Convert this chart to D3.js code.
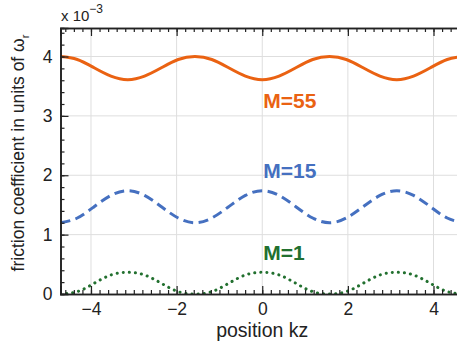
<!DOCTYPE html>
<html>
<head>
<meta charset="utf-8">
<script src="https://cdn.jsdelivr.net/npm/d3@7"></script>
<style>
  body { margin: 0; background: #fff; }
  svg { display: block; font-family: "Liberation Sans", Arial, sans-serif; }
</style>
</head>
<body>
<div id="root"></div>
<script>
// positions kz (samples every pi/8 from -3pi/2 to 3pi/2)
const positions = [-4.712, -4.320, -3.927, -3.534, -3.142, -2.749, -2.356, -1.963, -1.571,
  -1.178, -0.785, -0.393, 0, 0.393, 0.785, 1.178, 1.571, 1.963, 2.356, 2.749, 3.142,
  3.534, 3.927, 4.320, 4.712];

// friction coefficient (x 1e-3)
const m55 = [4.00, 3.95, 3.81, 3.67, 3.61, 3.67, 3.81, 3.95, 4.00, 3.95, 3.81, 3.67, 3.61,
  3.67, 3.81, 3.95, 4.00, 3.95, 3.81, 3.67, 3.61, 3.67, 3.81, 3.95, 4.00];
const m15 = [1.20, 1.28, 1.47, 1.66, 1.74, 1.66, 1.47, 1.28, 1.20, 1.28, 1.47, 1.66, 1.74,
  1.66, 1.47, 1.28, 1.20, 1.28, 1.47, 1.66, 1.74, 1.66, 1.47, 1.28, 1.20];
const m1 = [0.00, 0.04, 0.18, 0.32, 0.365, 0.32, 0.18, 0.04, 0.00, 0.04, 0.18, 0.32, 0.365,
  0.32, 0.18, 0.04, 0.00, 0.04, 0.18, 0.32, 0.365, 0.32, 0.18, 0.04, 0.00];

const xTicks = [-4, -2, 0, 2, 4];
const yTicks = [0, 1, 2, 3, 4];

const series = [
  { name: "M=55", values: m55, color: "#ea6212", dash: null, labelX: 0, labelY: 3.14 },
  { name: "M=15", values: m15, color: "#4570c0", dash: "10,5.5", labelX: 0, labelY: 1.96 },
  { name: "M=1", values: m1, color: "#22702f", dash: "0.1,6", labelX: 0, labelY: 0.57 }
];

const W = 457, H = 347;
const margin = { top: 28, right: -7, bottom: 53, left: 60.5 };
const width = W - margin.left - margin.right;
const height = H - margin.top - margin.bottom;

const svg = d3.select("#root").append("svg")
  .attr("width", W).attr("height", H);

const g = svg.append("g").attr("transform", `translate(${margin.left},${margin.top})`);

const x = d3.scaleLinear().domain([-4.712, 4.712]).range([0, width]);
const y = d3.scaleLinear().domain([0, 4.48]).range([height, 0]);

g.append("defs").append("clipPath").attr("id", "clip")
  .append("rect").attr("width", width).attr("height", height);

// grid
g.append("g").selectAll("line").data(xTicks).join("line")
  .attr("x1", d => x(d)).attr("x2", d => x(d))
  .attr("y1", 0).attr("y2", height)
  .attr("stroke", "#dedede").attr("stroke-width", 1);
g.append("g").selectAll("line").data(yTicks.filter(d => d > 0)).join("line")
  .attr("y1", d => y(d)).attr("y2", d => y(d))
  .attr("x1", 0).attr("x2", width)
  .attr("stroke", "#dedede").attr("stroke-width", 1);

// curves
const line = d3.line()
  .x((d, i) => x(positions[i]))
  .y(d => y(d))
  .curve(d3.curveNatural);

series.forEach(s => {
  g.append("path")
    .attr("clip-path", "url(#clip)")
    .attr("d", line(s.values))
    .attr("fill", "none")
    .attr("stroke", s.color)
    .attr("stroke-width", 3)
    .attr("stroke-linecap", s.dash && s.dash.startsWith("0.1") ? "round" : "butt")
    .attr("stroke-dasharray", s.dash);
  g.append("text")
    .attr("x", x(s.labelX) + 1).attr("y", y(s.labelY))
    .attr("fill", s.color)
    .attr("font-weight", "bold")
    .attr("font-size", 21)
    .text(s.name);
});

// axes (ticks inward, box)
const minorX = d3.range(-4.6, 4.7, 0.2).map(v => +v.toFixed(1));
const minorY = d3.range(0, 4.5, 0.2).map(v => +v.toFixed(1));
const axisColor = "#222";

const xb = g.append("g").attr("transform", `translate(0,${height})`)
  .call(d3.axisBottom(x).tickValues(minorX).tickSize(-4).tickFormat(""));
const xb2 = g.append("g").attr("transform", `translate(0,${height})`)
  .call(d3.axisBottom(x).tickValues(xTicks).tickSize(-8).tickPadding(9)
    .tickFormat(d => d < 0 ? "\u2212" + Math.abs(d) : d));
const xt = g.append("g")
  .call(d3.axisTop(x).tickValues(minorX).tickSize(-4).tickFormat(""));
const xt2 = g.append("g")
  .call(d3.axisTop(x).tickValues(xTicks).tickSize(-8).tickFormat(""));
const yl = g.append("g")
  .call(d3.axisLeft(y).tickValues(minorY).tickSize(-4).tickFormat(""));
const yl2 = g.append("g")
  .call(d3.axisLeft(y).tickValues(yTicks).tickSize(-8).tickPadding(8)
    .tickFormat(d3.format("d")));

[xb, xb2, xt, xt2, yl, yl2].forEach(a => {
  a.select(".domain").attr("stroke", axisColor).attr("stroke-width", 1.6);
  a.selectAll(".tick line").attr("stroke", axisColor).attr("stroke-width", 1.2);
  a.selectAll(".tick text").attr("fill", "#222").attr("font-size", 17.5)
    .attr("font-family", "Liberation Sans, Arial, sans-serif");
});

// exponent note
const note = svg.append("text").attr("x", 61).attr("y", 21)
  .attr("fill", "#222").attr("font-size", 15);
note.append("tspan").text("x 10");
note.append("tspan").attr("dy", -8).attr("font-size", 12).text("\u22123");

// axis labels
svg.append("text")
  .attr("x", margin.left + x(0)).attr("y", 337)
  .attr("text-anchor", "middle").attr("fill", "#222").attr("font-size", 19.5)
  .text("position kz");

const yl3 = svg.append("text")
  .attr("transform", `translate(24,${153}) rotate(-90)`)
  .attr("text-anchor", "middle").attr("fill", "#222").attr("font-size", 17.5);
yl3.append("tspan").text("friction coefficient in units of \u03c9");
yl3.append("tspan").attr("dy", 5).attr("font-size", 11).text("r");
</script>
</body>
</html>
